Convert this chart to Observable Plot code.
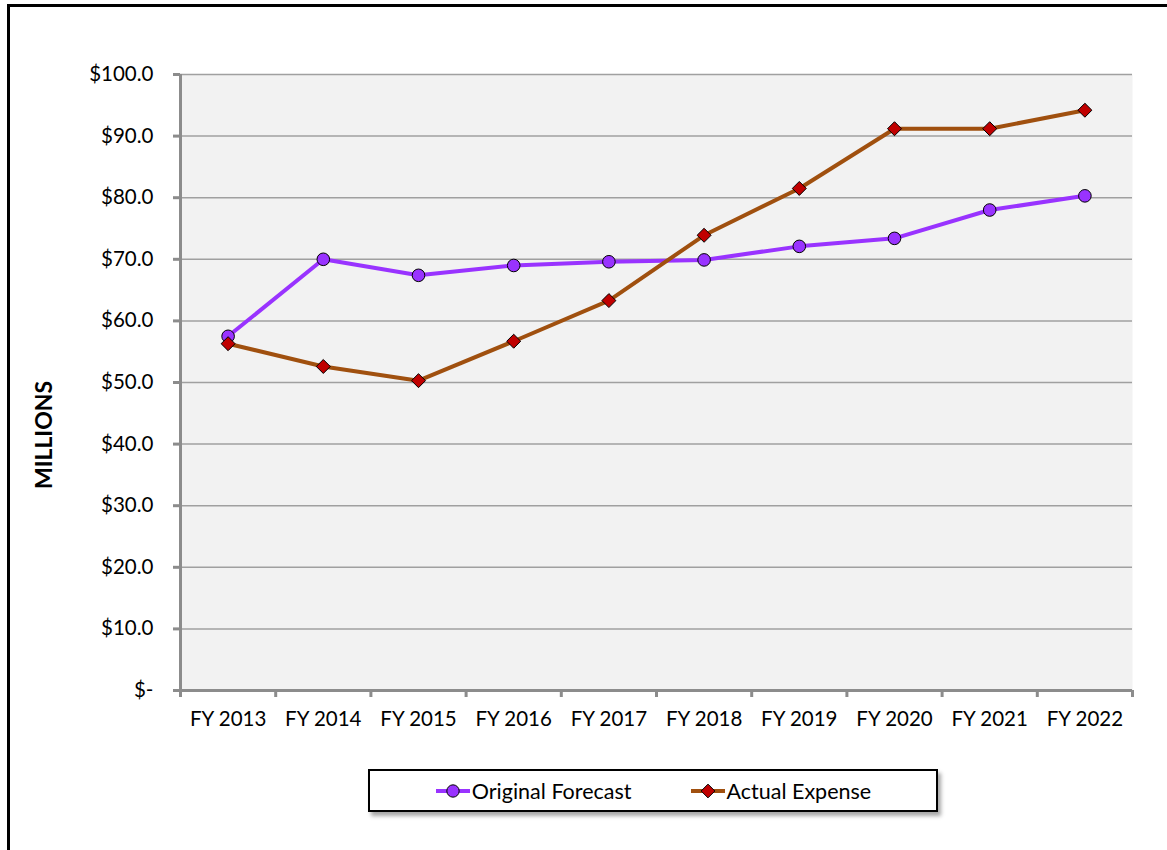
<!DOCTYPE html>
<html>
<head>
<meta charset="utf-8">
<script src="https://cdn.jsdelivr.net/npm/d3@7"></script>
<script src="https://cdn.jsdelivr.net/npm/@observablehq/plot@0.6"></script>
<style>
  html, body { margin: 0; padding: 0; background: #fff; }
  #wrap { position: relative; width: 1167px; height: 850px; overflow: hidden; font-family: Lato, "Open Sans", sans-serif; }
  #frame { position: absolute; left: 7px; top: 4px; width: 1200px; height: 900px; border-left: 3px solid #000; border-top: 3px solid #000; box-sizing: border-box; }
  #chart { position: absolute; left: 0; top: 0; }
  #ylabel { position: absolute; left: 43px; top: 435px; transform: translate(-50%, -50%) rotate(-90deg); font-weight: bold; font-size: 23px; white-space: nowrap; }
  #legend { position: absolute; left: 368px; top: 769px; width: 570px; height: 43px; box-sizing: border-box; border: 2px solid #000; background: #fff; box-shadow: 3px 4px 4px rgba(0,0,0,0.35); display: flex; align-items: center; justify-content: center; gap: 58px; font-size: 21.5px; }
  .item { display: flex; align-items: center; gap: 1px; }
</style>
</head>
<body>
<div id="wrap">
  <div id="frame"></div>
  <div id="chart"></div>
  <div id="ylabel">MILLIONS</div>
  <div id="legend"></div>
</div>
<script>
const categories = ["FY 2013","FY 2014","FY 2015","FY 2016","FY 2017","FY 2018","FY 2019","FY 2020","FY 2021","FY 2022"];
const originalForecast = [57.5, 70.0, 67.4, 69.0, 69.6, 69.9, 72.1, 73.4, 78.0, 80.3];
const actualExpense = [56.3, 52.6, 50.3, 56.7, 63.3, 73.9, 81.5, 91.2, 91.2, 94.2];
const yTicks = [0, 10, 20, 30, 40, 50, 60, 70, 80, 90, 100];
const seriesNames = ["Original Forecast", "Actual Expense"];

const colors = { forecast: "#9933ff", actual: "#a0500f", diamond: "#c00000", axis: "#8c8c8c", grid: "#a0a0a0" };

const fc = categories.map((c, i) => ({ x: i + 0.5, y: originalForecast[i], c }));
const ac = categories.map((c, i) => ({ x: i + 0.5, y: actualExpense[i], c }));
const boundaries = d3.range(categories.length + 1);
const centers = categories.map((c, i) => i + 0.5);

const fmt = v => v === 0 ? "$-" : "$" + d3.format(".1f")(v);

const plot = Plot.plot({
  width: 1167,
  height: 850,
  marginLeft: 180,
  marginRight: 35,
  marginTop: 74,
  marginBottom: 160,
  style: { fontFamily: "Lato, 'Open Sans', sans-serif", fontSize: "20.5px", background: "transparent", color: "#000" },
  x: { type: "linear", domain: [0, categories.length] },
  y: { domain: [0, 100] },
  marks: [
    Plot.frame({ fill: "#f2f2f2", stroke: null }),
    Plot.gridY(yTicks.filter(d => d > 0), { stroke: colors.grid, strokeOpacity: 1, strokeWidth: 1.5 }),
    Plot.axisY(yTicks, { tickSize: 7, tickPadding: 20, tickFormat: fmt, stroke: colors.axis, strokeWidth: 3, strokeOpacity: 1, label: null, fontSize: 20.5 }),
    Plot.axisX(boundaries, { tickSize: 7, tickFormat: () => "", stroke: colors.axis, strokeWidth: 3, strokeOpacity: 1, label: null }),
    Plot.axisX(centers, { tickSize: 0, tickPadding: 21, tickFormat: (d) => categories[Math.round(d - 0.5)], label: null, fontSize: 20.5 }),
    Plot.ruleX([0], { stroke: colors.axis, strokeWidth: 3 }),
    Plot.ruleY([0], { stroke: colors.axis, strokeWidth: 3 }),
    Plot.line(fc, { x: "x", y: "y", stroke: colors.forecast, strokeWidth: 4 }),
    Plot.line(ac, { x: "x", y: "y", stroke: colors.actual, strokeWidth: 4 }),
    Plot.dot(fc, { x: "x", y: "y", r: 6.3, fill: colors.forecast, stroke: "#000", strokeWidth: 1 }),
    Plot.dot(ac, { x: "x", y: "y", r: 6.3, symbol: "diamond2", fill: colors.diamond, stroke: "#000", strokeWidth: 1 })
  ]
});
document.getElementById("chart").appendChild(plot);

// Legend
const legend = d3.select("#legend");
const specs = [
  { name: seriesNames[0], line: colors.forecast, fill: colors.forecast, symbol: d3.symbolCircle },
  { name: seriesNames[1], line: colors.actual, fill: colors.diamond, symbol: d3.symbolDiamond2 }
];
specs.forEach(s => {
  const it = legend.append("div").attr("class", "item");
  const svg = it.append("svg").attr("width", 36).attr("height", 20);
  svg.append("line").attr("x1", 1).attr("x2", 35).attr("y1", 10).attr("y2", 10).attr("stroke", s.line).attr("stroke-width", 4);
  svg.append("path").attr("transform", "translate(18,10)").attr("d", d3.symbol(s.symbol, 120)())
    .attr("fill", s.fill).attr("stroke", "#000").attr("stroke-width", 1);
  it.append("span").text(s.name);
});
</script>
</body>
</html>
